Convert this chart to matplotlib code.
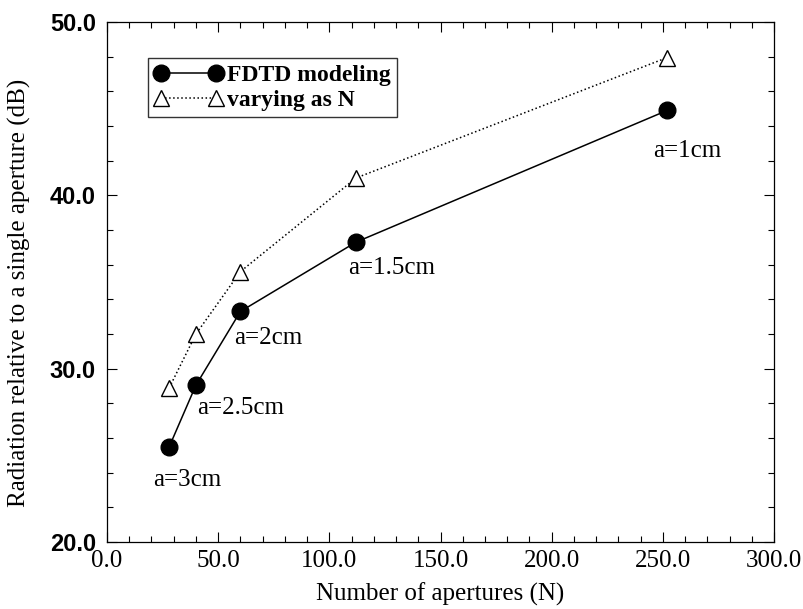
import matplotlib
matplotlib.use("Agg")
import matplotlib.pyplot as plt
from matplotlib.ticker import MultipleLocator, FormatStrFormatter

# data
n_apertures = [28, 40, 60, 112, 252]
fdtd = [25.5, 29.05, 33.3, 37.3, 44.9]
varying_n = [28.9, 32.0, 35.6, 41.0, 47.95]
size_labels = ["a=3cm", "a=2.5cm", "a=2cm", "a=1.5cm", "a=1cm"]
label_offsets = [(18, -33), (45, -23), (28, -27), (36, -26), (20, -41)]

plt.rcParams["font.family"] = ["Liberation Serif", "DejaVu Serif"]

fig = plt.figure(figsize=(8.04, 6.09), dpi=100)
ax = fig.add_axes([0.1331, 0.110, 0.8296, 0.8539])

ax.plot(n_apertures, fdtd, "-", color="black", linewidth=1.1,
        marker="o", markersize=12, markerfacecolor="black",
        label="FDTD modeling")
ax.plot(n_apertures, varying_n, ":", color="black", linewidth=1.1,
        marker="^", markersize=12, markerfacecolor="white",
        markeredgewidth=1.0, label="varying as N")

for x, y, txt, off in zip(n_apertures, fdtd, size_labels, label_offsets):
    ax.annotate(txt, (x, y), xytext=off, textcoords="offset pixels",
                ha="center", va="center", fontsize=18)

ax.set_xlim(0, 300)
ax.set_ylim(20, 50)
ax.xaxis.set_major_locator(MultipleLocator(50))
ax.xaxis.set_minor_locator(MultipleLocator(10))
ax.yaxis.set_major_locator(MultipleLocator(10))
ax.yaxis.set_minor_locator(MultipleLocator(2))
ax.xaxis.set_major_formatter(FormatStrFormatter("%.1f"))
ax.yaxis.set_major_formatter(FormatStrFormatter("%.1f"))
ax.tick_params(which="both", direction="in", top=True, right=True, width=0.8)
ax.tick_params(which="major", length=7)
ax.tick_params(which="minor", length=4)
ax.tick_params(axis="x", labelsize=18, pad=6)
ax.tick_params(axis="y", pad=8)
for lbl in ax.get_yticklabels():
    lbl.set_fontfamily("Liberation Sans")
    lbl.set_fontweight("bold")
    lbl.set_fontsize(17)
for s in ax.spines.values():
    s.set_linewidth(0.9)

ax.set_xlabel("Number of apertures (N)", fontsize=18)
ax.set_ylabel("Radiation relative to a single aperture (dB)", fontsize=18)
ax.xaxis.set_label_coords(0.5, -0.079)
ax.yaxis.set_label_coords(-0.114, 0.48)

leg = ax.legend(loc="upper left", bbox_to_anchor=(0.062, 0.93), numpoints=2,
                prop={"family": "Liberation Serif", "weight": "bold", "size": 17},
                frameon=True, fancybox=False, edgecolor="black",
                handlelength=2.9, handletextpad=0.2, borderpad=0.25,
                labelspacing=0.15, borderaxespad=0)
leg.get_frame().set_linewidth(1.0)

fig.savefig("out.png", dpi=100)
